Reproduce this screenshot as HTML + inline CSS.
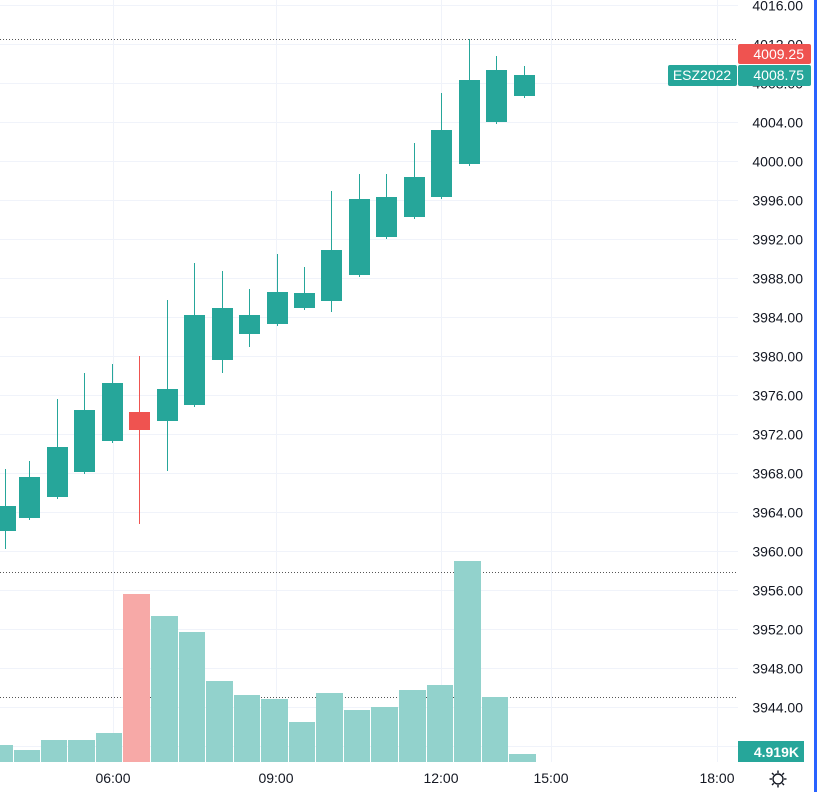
<!DOCTYPE html><html><head><style>body{margin:0;background:#fff;width:817px;height:792px;overflow:hidden}svg{display:block;font-family:"Liberation Sans",sans-serif}</style></head><body>
<svg width="817" height="792" xmlns="http://www.w3.org/2000/svg">
<g stroke="#f0f3fa" stroke-width="1" id="grid"></g>
<g id="c"></g>
<rect x="814" y="0" width="3" height="792" fill="#2962ff"/>
</svg>
<script>
const s=document.querySelector('svg'),g=document.getElementById('grid'),c=document.getElementById('c');
function el(t,a,p,txt){const e=document.createElementNS('http://www.w3.org/2000/svg',t);for(const k in a)e.setAttribute(k,a[k]);if(txt)e.textContent=txt;(p||c).appendChild(e);return e}
const Y=p=>161-(p-4000)*9.75;
for(let p=3944;p<=4016;p+=4){const y=Math.round(Y(p))+0.5;el('line',{x1:0,x2:738,y1:y,y2:y},g);el('text',{x:803,y:y+5,'text-anchor':'end','font-size':14,fill:'#131722'},s,p.toFixed(2))}
el('line',{x1:0,x2:738,y1:746.5,y2:746.5},g);
[[113,'06:00'],[276,'09:00'],[441,'12:00'],[551,'15:00'],[717,'18:00']].forEach(([x,t])=>{el('line',{x1:x+.5,x2:x+.5,y1:0,y2:762},g);el('text',{x:x,y:783,'text-anchor':'middle','font-size':14,fill:'#131722'},s,t)});
[39.5,572.5,697.5].forEach(y=>el('line',{x1:0,x2:738,y1:y,y2:y,stroke:'#555','stroke-dasharray':'1 2'}));
const v=[[0,14,745],[14,41,750],[41,68,740],[68,96,740],[96,123,733],[123,151,594,1],[151,179,616],[179,206,632],[206,234,681],[234,261,695],[261,289,699],[289,316,722],[316,344,693],[344,371,710],[371,399,707],[399,427,690],[427,454,685],[454,482,561],[482,509,697],[509,537,754]];
v.forEach(b=>el('rect',{x:b[0],y:b[2],width:b[1]-b[0]-1,height:762-b[2],fill:b[3]?'#f7a9a7':'#92d2cc'}));
const k=[[5,506,531,469,549],[29,477,518,461,520],[57,447,497,399,499],[84,410,472,373,474],[112,383,441,364,443],[139,412,430,356,524,1],[167,389,421,300,471],[194,315,405,263,407],[222,308,360,271,373],[249,315,334,289,347],[277,292,324,254,326],[304,293,308,267,310],[331,250,301,191,312],[359,199,275,174,277],[386,197,237,174,239],[414,177,217,143,219],[441,130,197,93,199],[469,80,164,39,166],[496,70,122,56,124],[524,75,96,66,98]];
k.forEach(d=>{const col=d[5]?'#ef5350':'#26a69a';el('line',{x1:d[0]+.5,x2:d[0]+.5,y1:d[3],y2:d[4],stroke:col});el('rect',{x:d[0]-10,y:d[1],width:21,height:d[2]-d[1],fill:col})});
el('rect',{x:738,y:44,width:73,height:20,rx:2,fill:'#ef5350'},s);el('text',{x:804,y:59,'text-anchor':'end','font-size':14,fill:'#fff'},s,'4009.25');
el('rect',{x:668,y:65,width:69,height:21,rx:2,fill:'#26a69a'},s);el('text',{x:702,y:80,'text-anchor':'middle','font-size':14,fill:'#fff'},s,'ESZ2022');
el('rect',{x:738,y:65,width:73,height:21,rx:2,fill:'#26a69a'},s);el('text',{x:804,y:80,'text-anchor':'end','font-size':14,fill:'#fff'},s,'4008.75');
el('rect',{x:738,y:741,width:66,height:21,fill:'#26a69a'},s);el('text',{x:799,y:757,'text-anchor':'end','font-size':14,'font-weight':'bold',fill:'#fff'},s,'4.919K');
el('circle',{cx:778,cy:779,r:5,fill:'none',stroke:'#131722','stroke-width':1.4},s);
for(let i=0;i<8;i++){const a=i*Math.PI/4;el('line',{x1:778+6*Math.cos(a),y1:779+6*Math.sin(a),x2:778+8.5*Math.cos(a),y2:779+8.5*Math.sin(a),stroke:'#131722','stroke-width':1.4},s)}
</script></body></html>
